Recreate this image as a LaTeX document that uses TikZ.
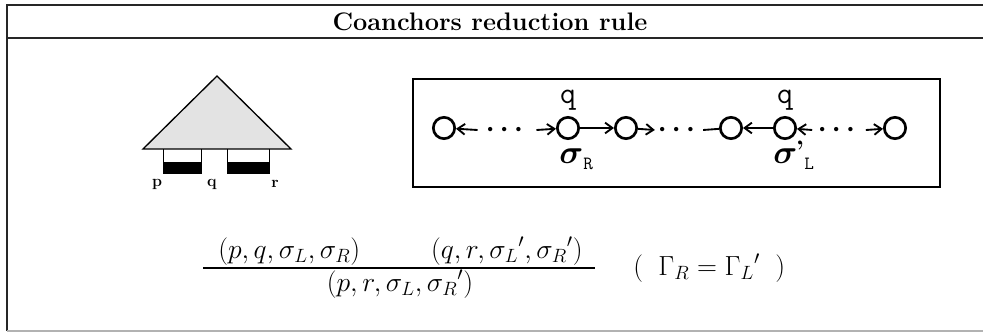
\documentclass[tikz,border=0pt]{standalone}
\usepackage{amsmath,amssymb,bm}
\usepackage{fontspec}
\usetikzlibrary{arrows.meta}
\begin{document}
\begin{tikzpicture}[x=0.75pt,y=-0.75pt,
  frame/.style={line width=1.4pt, draw=black!85},
  st/.style={circle, draw, line width=2pt, minimum size=16pt, inner sep=0pt},
  arr/.style={line width=1.4pt, -{Straight Barb[length=5.5pt,width=8pt,line width=1.4pt]}},
  ln/.style={line width=1.4pt},
  dts/.style={inner sep=0pt, font=\fontsize{20}{22}\selectfont\boldmath},
  lab/.style={inner sep=0pt, font=\fontsize{23}{24}\selectfont\ttfamily},
  mth/.style={inner sep=0pt, font=\fontsize{21}{24}\selectfont},
  leaf/.style={inner sep=0pt, font=\bfseries\large}]
\useasboundingbox (0,0) rectangle (983,332);
% outer frame
\coordinate (fa) at (983,5);
\coordinate (fb) at (7,5);
\coordinate (fc) at (7,331);
\coordinate (fd) at (983,331);
\draw[frame] (fa) -- (fb) -- (fc);
\draw[line width=0.8pt, draw=black!30] (fc) -- (fd);
\coordinate (ha) at (7,38);
\coordinate (hb) at (983,38);
\draw[frame] (ha) -- (hb);
\node[inner sep=0pt, font=\bfseries\fontsize{19}{22}\selectfont] (title) at (490,22) {Coanchors reduction rule};
% tree
\draw[fill=gray!22, line width=1pt] (217,76) -- (291,149) -- (143,149) -- cycle;
\draw[line width=0.6pt] (163,149) -- (163,173) -- (201,173) -- (201,149);
\fill (163,162) rectangle (201,173);
\draw[line width=0.6pt] (227,149) -- (227,173) -- (269,173) -- (269,149);
\fill (227,162) rectangle (269,173);
\node[leaf] (lp) at (157,184) {p};
\node[leaf] (lq) at (212,184) {q};
\node[leaf] (lr) at (275,184) {r};
% chain box
\draw[line width=1.1pt] (413,79) rectangle (940,187);
\node[st] (c1) at (444,128) {};
\node[st] (c2) at (568,128) {};
\node[st] (c3) at (626,128) {};
\node[st] (c4) at (731,128) {};
\node[st] (c5) at (785,128) {};
\node[st] (c6) at (895,128) {};
\node[dts] (d1) at (507,130) {$\cdots$};
\node[dts] (d2) at (679,130) {$\cdots$};
\node[dts] (d3) at (839,130) {$\cdots$};
\draw[arr] ([xshift=-6pt]d1.west) -- (c1);
\draw[arr] ([xshift=6pt]d1.east) -- (c2);
\draw[arr] (c2) -- (c3);
\draw[arr] (c3) -- ([xshift=-2pt]d2.west);
\draw[ln] ([xshift=2pt]d2.east) -- (c4);
\draw[arr] (c5) -- (c4);
\draw[arr] ([xshift=-4pt]d3.west) -- (c5);
\draw[arr] ([xshift=4pt]d3.east) -- (c6);
\node[lab] (q1) at (568,100) {q};
\node[lab] (q2) at (785,100) {q};
\node[inner sep=0pt, anchor=base west] (s1) at (559,163) {\fontsize{29}{30}\selectfont$\boldsymbol{\sigma}$\raisebox{-5pt}{\fontsize{14}{14}\selectfont\ttfamily R}};
\node[inner sep=0pt, anchor=base west] (s2) at (773,163) {\fontsize{29}{30}\selectfont$\boldsymbol{\sigma}$\hspace{-1pt}\raisebox{3pt}{\fontsize{20}{20}\selectfont\bfseries '}\raisebox{-5pt}{\fontsize{14}{14}\selectfont\ttfamily L}};
% inference rule
\node[mth, anchor=base west] (n1) at (218,258) {$(p,q,\sigma_L,\sigma_R)$};
\node[mth, anchor=base east] (n2) at (583,258) {$(q,r,{\sigma_L}',{\sigma_R}')$};
\node[mth, anchor=base] (dn) at (400,291) {$(p,r,\sigma_L,{\sigma_R}')$};
\coordinate (ra) at (203,268);
\coordinate (rb) at (595,268);
\draw[line width=1.1pt] (ra) -- (rb);
\node[mth, anchor=west] (cond) at (633,268) {$(\;\;\Gamma_R = {\Gamma_L}'\;\;)$};
\end{tikzpicture}
\end{document}
